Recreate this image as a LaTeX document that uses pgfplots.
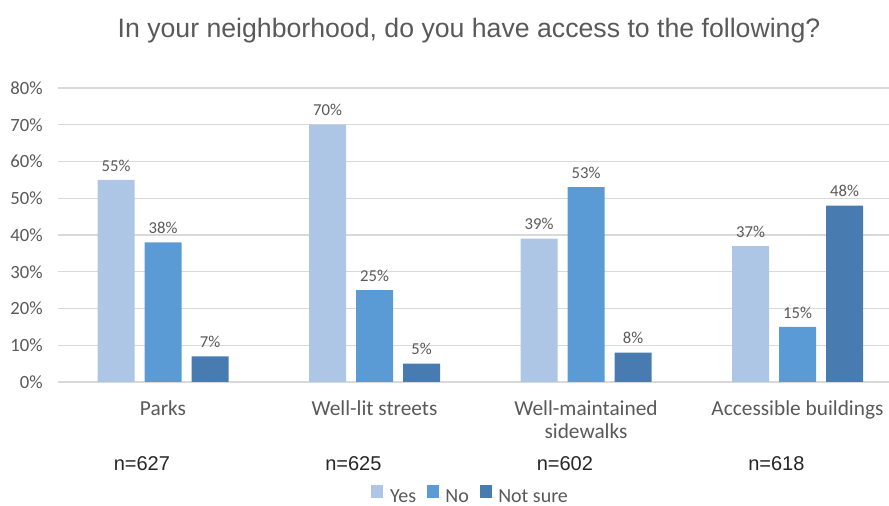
\documentclass[border=0pt]{standalone}
\usepackage{fontspec}
\setmainfont{Carlito}
\newfontfamily\arial{Liberation Sans}
\usepackage{pgfplots}
\pgfplotsset{compat=1.18}
\definecolor{cyes}{RGB}{173,198,229}
\definecolor{cno}{RGB}{91,155,213}
\definecolor{cns}{RGB}{72,124,176}
\definecolor{tgray}{RGB}{89,89,89}
\definecolor{ggray}{RGB}{217,217,217}
\begin{document}
\begin{tikzpicture}
\useasboundingbox (0,0) rectangle (666.75pt,379.5pt);
\node[font=\arial\fontsize{20}{23}\selectfont, text=tgray] at (351.75pt,356.5pt) {In your neighborhood, do you have access to the following?};
\begin{axis}[
  at={(43.5pt,93pt)}, anchor=south west,
  scale only axis, width=623.25pt, height=220.5pt,
  xmin=-0.4965, xmax=3.4326, ymin=0, ymax=80,
  ybar=7.5pt, bar width=27.75pt,
  axis line style={draw=none},
  major tick length=0pt,
  ytick={0,10,...,80},
  yticklabel={\pgfmathprintnumber{\tick}\%},
  /pgf/number format/assume math mode=true,
  ymajorgrids, grid style={ggray, line width=0.8pt},
  yticklabel style={font=\fontsize{14}{15}\selectfont, text=tgray, xshift=-8pt},
  xtick={0,1,2,3},
  xticklabels={Parks, Well-lit streets, {Well-maintained\\sidewalks}, Accessible buildings},
  xticklabel style={font=\fontsize{16}{17.5}\selectfont, text=tgray, align=center, yshift=-10.5pt},
  nodes near coords={\pgfmathprintnumber{\pgfplotspointmeta}\%},
  nodes near coords style={font=\fontsize{12.5}{14}\selectfont, text=tgray, yshift=3pt},
  clip=false,
  legend columns=3,
  legend style={at={(0.497,-0.388)}, anchor=center, draw=none, fill=none,
    font=\fontsize{15}{17}\selectfont, text=tgray, inner sep=0pt,
    /tikz/every even column/.append style={column sep=6pt}},
  legend image code/.code={\fill[#1] (0pt,-1pt) rectangle (9pt,9pt); \path (0pt,0pt) -- (12pt,0pt);},
]
\addplot[fill=cyes, draw=none] coordinates {(0,55) (1,70) (2,39) (3,37)};
\addplot[fill=cno, draw=none] coordinates {(0,38) (1,25) (2,53) (3,15)};
\addplot[fill=cns, draw=none] coordinates {(0,7) (1,5) (2,8) (3,48)};
\legend{Yes, No, Not sure}
\node[font=\arial\fontsize{15}{17}\selectfont, text=black!85] at (axis cs:-0.1,-22.3) {n=627};
\node[font=\arial\fontsize{15}{17}\selectfont, text=black!85] at (axis cs:0.9,-22.3) {n=625};
\node[font=\arial\fontsize{15}{17}\selectfont, text=black!85] at (axis cs:1.9,-22.3) {n=602};
\node[font=\arial\fontsize{15}{17}\selectfont, text=black!85] at (axis cs:2.9,-22.3) {n=618};
\end{axis}
\end{tikzpicture}
\end{document}
